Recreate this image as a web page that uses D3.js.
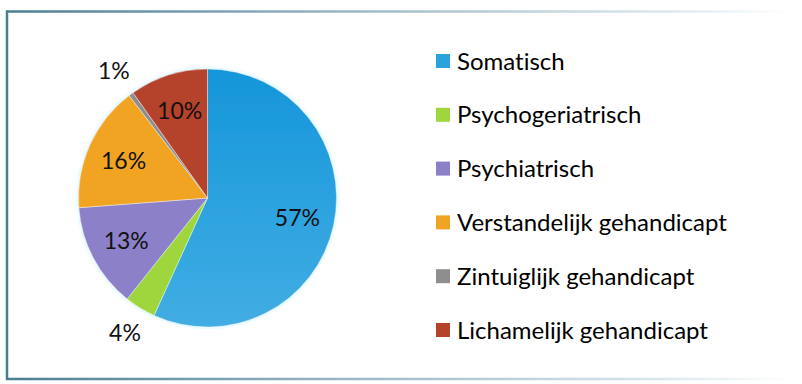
<!DOCTYPE html>
<html>
<head>
<meta charset="utf-8">
<script src="https://cdn.jsdelivr.net/npm/d3@7/dist/d3.min.js"></script>
<style>
html,body{margin:0;padding:0;background:#fff;}
svg{display:block;}
text{font-family:"Lato","Open Sans",sans-serif;font-variant-ligatures:none;font-feature-settings:"liga" 0,"clig" 0;}
</style>
</head>
<body>
<svg id="chart" width="802" height="384"></svg>
<script>
const categories = ["Somatisch","Psychogeriatrisch","Psychiatrisch","Verstandelijk gehandicapt","Zintuiglijk gehandicapt","Lichamelijk gehandicapt"];
const values = [56.8, 3.9, 13.1, 15.8, 0.6, 9.8];
const colors = ["#2aa3dd","#9fd63c","#8c80c8","#f0a424","#8e8e8e","#b5432c"];

const svg = d3.select("#chart");
const defs = svg.append("defs");

// frame gradients
const gTop = defs.append("linearGradient").attr("id","gTop").attr("gradientUnits","userSpaceOnUse")
  .attr("x1",6).attr("x2",790).attr("y1",0).attr("y2",0);
gTop.append("stop").attr("offset","0").attr("stop-color","#4a7d92");
gTop.append("stop").attr("offset","0.45").attr("stop-color","#9db9c7");
gTop.append("stop").attr("offset","0.85").attr("stop-color","#dde9ef");
gTop.append("stop").attr("offset","1").attr("stop-color","#ffffff");

const gSlice = defs.append("linearGradient").attr("id","gBlue").attr("x1","0").attr("x2","0").attr("y1","0").attr("y2","1");
gSlice.append("stop").attr("offset","0").attr("stop-color","#1596da");
gSlice.append("stop").attr("offset","1").attr("stop-color","#41ade3");

const glow = defs.append("filter").attr("id","glow").attr("x","-20%").attr("y","-20%").attr("width","140%").attr("height","140%");
glow.append("feGaussianBlur").attr("in","SourceAlpha").attr("stdDeviation","2").attr("result","b");
glow.append("feFlood").attr("flood-color","#bfefff").attr("result","c");
glow.append("feComposite").attr("in","c").attr("in2","b").attr("operator","in").attr("result","s");
const fm = glow.append("feMerge");
fm.append("feMergeNode").attr("in","s");
fm.append("feMergeNode").attr("in","SourceGraphic");

// frame
svg.append("line").attr("x1",6).attr("x2",790).attr("y1",11.5).attr("y2",11.5).attr("stroke","url(#gTop)").attr("stroke-width",2.5);
svg.append("line").attr("x1",6).attr("x2",790).attr("y1",379).attr("y2",379).attr("stroke","url(#gTop)").attr("stroke-width",2.5);
svg.append("line").attr("x1",7).attr("x2",7).attr("y1",10.5).attr("y2",380).attr("stroke","#4a7d92").attr("stroke-width",2.5);

// pie
const cx = 207.5, cy = 198, r = 129;
const pie = d3.pie().sort(null).value(d => d)(values);
const arc = d3.arc().innerRadius(0).outerRadius(r);
const g = svg.append("g").attr("transform",`translate(${cx},${cy})`);
g.append("g").attr("filter","url(#glow)").selectAll("path").data(pie).join("path")
  .attr("d",arc)
  .attr("fill",(d,i)=> i===0 ? "url(#gBlue)" : colors[i])
  .attr("stroke","rgba(255,255,255,0.5)").attr("stroke-width",0.8);

const inArc = d3.arc().innerRadius(92).outerRadius(92);
const outArc = d3.arc().innerRadius(158).outerRadius(158);
g.selectAll("text.lbl").data(pie).join("text").attr("class","lbl")
  .attr("transform",d => `translate(${(d.data < 5 ? outArc : inArc).centroid(d)})`)
  .attr("text-anchor","middle").attr("dy","0.36em")
  .attr("font-size",23).attr("fill","#111")
  .text(d => Math.round(d.data) + "%");

// legend
const ly = d3.scalePoint().domain(categories).range([61,330]);
const leg = svg.append("g").selectAll("g").data(categories).join("g")
  .attr("transform",d=>`translate(436,${ly(d)})`);
leg.append("rect").attr("x",0).attr("y",-7).attr("width",14).attr("height",14).attr("fill",(d,i)=>colors[i]);
leg.append("text").attr("x",21).attr("dy","0.36em").attr("font-size",24).attr("fill","#000").text(d=>d);
</script>
</body>
</html>
